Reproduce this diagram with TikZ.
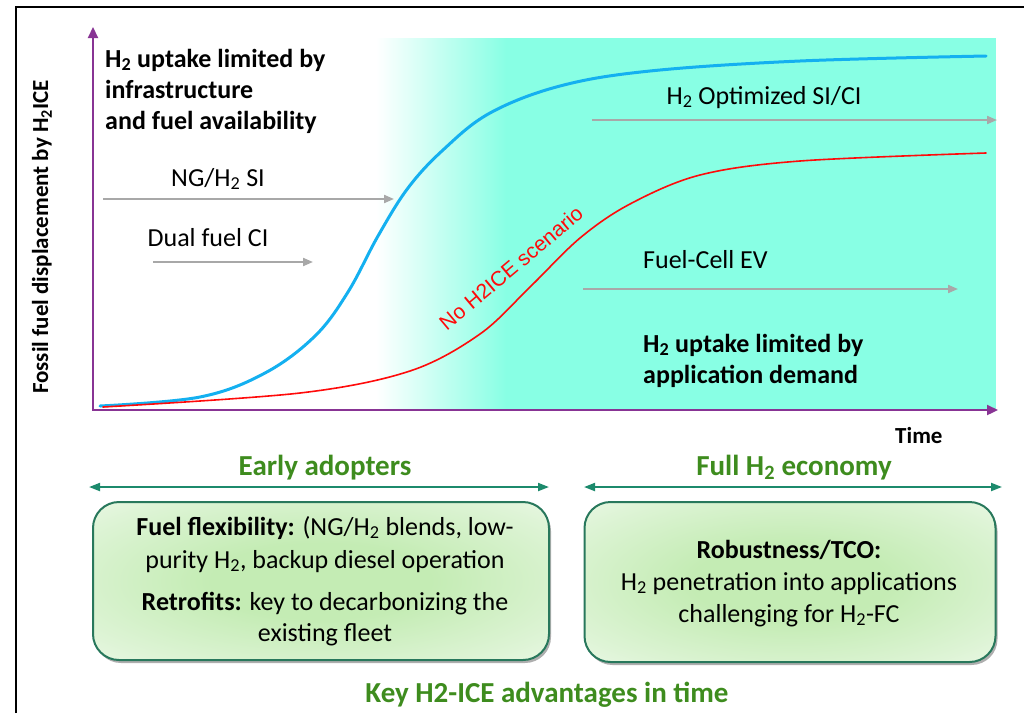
\documentclass[tikz,border=0pt]{standalone}
\usepackage{fontspec}
\setmainfont{Carlito}
\newfontfamily\arialf{Liberation Sans}
\usetikzlibrary{arrows.meta,shadows}
\definecolor{axispurple}{RGB}{136,52,148}
\definecolor{curveblue}{RGB}{20,176,240}
\definecolor{curvered}{RGB}{255,10,10}
\definecolor{arrowgray}{RGB}{168,168,168}
\definecolor{tealfill}{RGB}{136,255,228}
\definecolor{titlegreen}{RGB}{62,140,30}
\definecolor{spangreen}{RGB}{28,138,108}
\definecolor{boxedge}{RGB}{40,120,92}
\definecolor{boxfill}{RGB}{196,236,180}
\definecolor{boxmid}{RGB}{222,244,214}
\pgfdeclareradialshading{boxglow}{\pgfpoint{0bp}{0bp}}{color(0bp)=(boxfill); color(12bp)=(boxfill); color(30bp)=(boxmid); color(48bp)=(white); color(100bp)=(white)}
\tikzset{
  axis/.style={draw=axispurple, line width=2.2pt, {Triangle[length=11pt,width=10pt]}-{Triangle[length=11pt,width=10pt]}},
  grayarrow/.style={draw=arrowgray, line width=2pt, -{Triangle[length=10pt,width=8pt]}},
  span/.style={draw=spangreen, line width=2pt, {Triangle[length=11pt,width=8pt]}-{Triangle[length=11pt,width=8pt]}},
  hdr/.style={font=\fontsize{26}{31}\selectfont\bfseries, align=left, inner sep=0pt},
  lbl/.style={font=\fontsize{26}{31}\selectfont, inner sep=0pt},
  bodytxt/.style={font=\fontsize{26}{32}\selectfont, align=center, inner sep=0pt},
  gtitle/.style={font=\fontsize{29}{34}\selectfont\bfseries, text=titlegreen, inner sep=0pt},
  advbox/.style={draw=boxedge, line width=2pt, rounded corners=26pt, shading=boxglow,
    drop shadow={shadow xshift=2pt, shadow yshift=-3pt, opacity=0.45, fill=black!70}}
}
\begin{document}
\begin{tikzpicture}[x=1pt,y=-1pt]
\useasboundingbox (0,0) rectangle (1024,713);
% frame
\draw[line width=2pt] (16,713) -- (16,7) -- (1024,7);
% background band
\fill[tealfill] (505,38) rectangle (996,410);
\shade[left color=white, right color=tealfill] (376,38) rectangle (506,410);
% axes
\coordinate (ytop) at (93,27);
\coordinate (orig) at (93,410);
\coordinate (xend) at (998,410);
\draw[axis] (ytop) -- (orig) -- (xend);
% curves
\draw[curveblue, line width=3pt, line cap=round] plot[smooth, tension=0.6] coordinates {
 (100,406) (200,397) (265,373) (315,336) (348,292) (378,236) (408,188) (443,150) (490,113) (560,86) (650,71) (800,61) (986,56)};
\draw[curvered, line width=1.6pt, line cap=round] plot[smooth, tension=0.55] coordinates {
 (103,407) (300,393) (410,371) (480,334) (530,287) (580,238) (630,204) (700,175) (800,161) (986,153)};
\node[font=\arialf\fontsize{21}{25}\selectfont, text=curvered, rotate=40, inner sep=0pt] (nosc) at (511,268) {No H2ICE scenario};
% headings
\node[hdr, anchor=base west] (hinfra) at (105,129) {H\textsubscript{2} uptake limited by\\infrastructure\\and fuel availability};
\node[hdr, anchor=base west] (hdemand) at (643,383) {H\textsubscript{2} uptake limited by\\application demand};
% technology arrows
\node[lbl, anchor=base] (ngt) at (218,186) {NG/H\textsubscript{2} SI};
\coordinate (ng1) at (103,199); \coordinate (ng2) at (394,199);
\draw[grayarrow] (ng1) -- (ng2);
\node[lbl, anchor=base] (dft) at (208,246) {Dual fuel CI};
\coordinate (df1) at (153,262); \coordinate (df2) at (313,262);
\draw[grayarrow] (df1) -- (df2);
\node[lbl, anchor=base] (opt) at (764,104) {H\textsubscript{2} Optimized SI/CI};
\coordinate (op1) at (592,120); \coordinate (op2) at (997,120);
\draw[grayarrow] (op1) -- (op2);
\node[lbl, anchor=base west] (fct) at (643,268) {Fuel-Cell EV};
\coordinate (fc1) at (583,289); \coordinate (fc2) at (958,289);
\draw[grayarrow] (fc1) -- (fc2);
% axis labels
\node[font=\fontsize{23}{27}\selectfont\bfseries, rotate=90, inner sep=0pt] (ylab) at (42,237) {Fossil fuel displacement by H\textsubscript{2}ICE};
\node[font=\fontsize{23}{27}\selectfont\bfseries, anchor=base west, inner sep=0pt] (xlab) at (895,443) {Time};
% phases
\node[gtitle, anchor=base] (early) at (325,475) {Early adopters};
\coordinate (e1) at (89,487); \coordinate (e2) at (549,487);
\draw[span] (e1) -- (e2);
\node[gtitle, anchor=base] (full) at (794,475) {Full H\textsubscript{2} economy};
\coordinate (f1) at (584,487); \coordinate (f2) at (1002,487);
\draw[span] (f1) -- (f2);
% boxes
\node[advbox, minimum width=456pt, minimum height=158pt] (box1) at (321,581) {};
\node[advbox, minimum width=411pt, minimum height=160pt] (box2) at (790,582) {};
\node[bodytxt, anchor=base, font=\fontsize{26}{33}\selectfont] (b1a) at (325,568) {\textbf{Fuel flexibility:} (NG/H\textsubscript{2} blends, low-\\purity H\textsubscript{2}, backup diesel operation};
\node[bodytxt, anchor=base, font=\fontsize{26}{31}\selectfont] (b1b) at (325,641) {\textbf{Retrofits:} key to decarbonizing the\\existing fleet};
\node[bodytxt, anchor=base, font=\fontsize{26}{32}\selectfont] (b2) at (789,622) {\textbf{Robustness/TCO:}\\H\textsubscript{2} penetration into applications\\challenging for H\textsubscript{2}-FC};
\node[gtitle, anchor=base] (keyadv) at (547,702) {Key H2-ICE advantages in time};
\end{tikzpicture}
\end{document}
